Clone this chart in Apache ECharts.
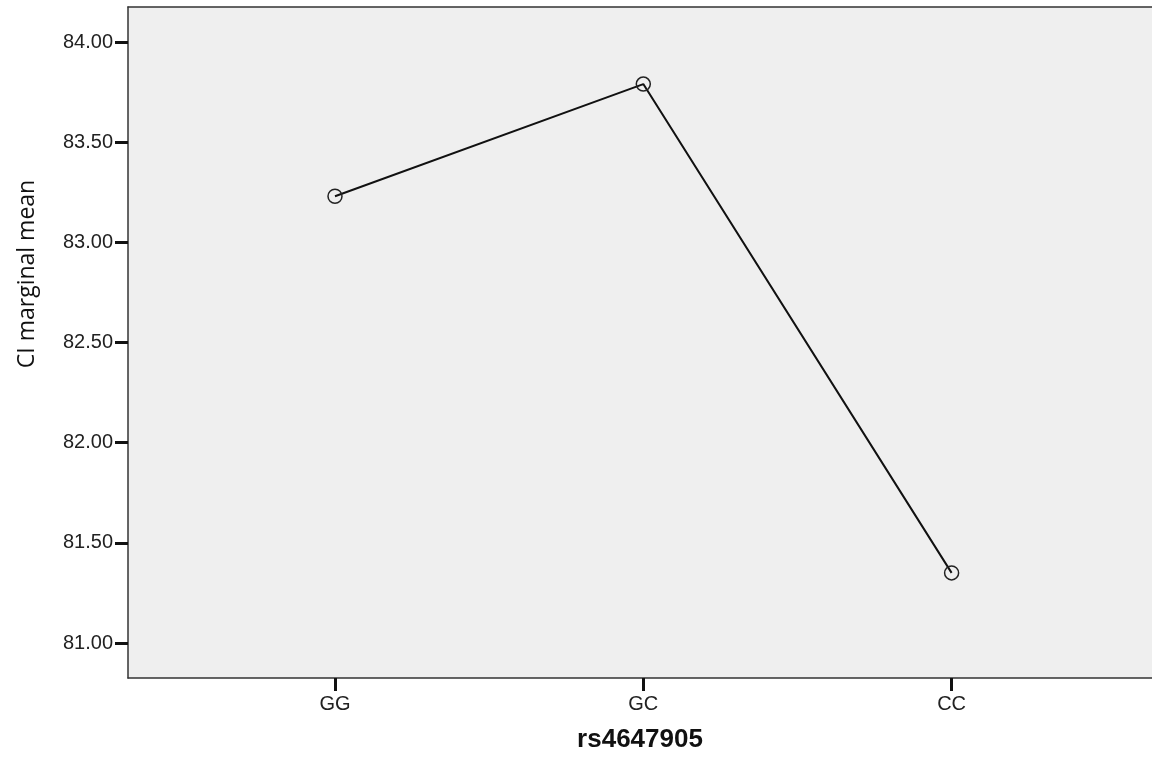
<!DOCTYPE html>
<html>
<head>
<meta charset="utf-8">
<style>
  html, body { margin: 0; padding: 0; background: #ffffff; }
  #chart { width: 1152px; height: 761px; }
</style>
<script src="https://cdn.jsdelivr.net/npm/echarts@6/dist/echarts.min.js"></script>
</head>
<body>
<div id="chart"></div>
<script>
// Genotype groups and estimated marginal means of CI
const genotypes = ['GG', 'GC', 'CC'];
const marginalMeans = [83.23, 83.79, 81.35];
const yTickValues = [81.0, 81.5, 82.0, 82.5, 83.0, 83.5, 84.0];

const xAxisTitle = 'rs4647905';
const yAxisTitle = 'CI marginal mean';

const chart = echarts.init(document.getElementById('chart'), null, { renderer: 'canvas' });

const points = genotypes.map((g, i) => [i, marginalMeans[i]]);
const xPositions = genotypes.map((g, i) => i);

const labelFont = { fontFamily: 'Liberation Sans, Arial, sans-serif', fontSize: 20, color: '#222222' };
const frameLine = { color: '#333333', width: 1.5 };
const xRange = { min: -0.6714, max: 2.65 };

chart.setOption({
  animation: false,
  backgroundColor: '#ffffff',
  grid: {
    left: 128, top: 7, right: 0, bottom: 83,
    show: true,
    backgroundColor: '#efefef',
    borderWidth: 0
  },
  xAxis: [{
    type: 'value',
    min: xRange.min,
    max: xRange.max,
    splitLine: { show: false },
    axisLine: { show: true, onZero: false, lineStyle: frameLine },
    axisTick: { show: true, length: 13, customValues: xPositions, lineStyle: { color: '#111111', width: 3 } },
    axisLabel: Object.assign({
      margin: 16,
      customValues: xPositions,
      formatter: v => genotypes[Math.round(v)] || ''
    }, labelFont),
    name: xAxisTitle,
    nameLocation: 'middle',
    nameGap: 49,
    nameTextStyle: { fontFamily: 'Liberation Sans, Arial, sans-serif', fontSize: 26, fontWeight: 'bold', color: '#111111' }
  }, {
    // top edge of the plot frame
    type: 'value',
    position: 'top',
    min: xRange.min,
    max: xRange.max,
    splitLine: { show: false },
    axisLine: { show: true, onZero: false, lineStyle: frameLine },
    axisTick: { show: false },
    axisLabel: { show: false }
  }],
  yAxis: {
    type: 'value',
    min: 80.8253,
    max: 84.1747,
    splitLine: { show: false },
    axisLine: { show: true, onZero: false, lineStyle: frameLine },
    axisTick: { show: true, length: 13, customValues: yTickValues, lineStyle: { color: '#111111', width: 3 } },
    axisLabel: Object.assign({
      margin: 15,
      customValues: yTickValues,
      formatter: v => v.toFixed(2)
    }, labelFont)
  },
  graphic: [{
    type: 'text',
    x: 27,
    y: 274,
    rotation: Math.PI / 2,
    style: {
      text: yAxisTitle,
      fontFamily: 'Open Sans, Noto Sans, sans-serif',
      fontSize: 23,
      fill: '#111111',
      align: 'center',
      verticalAlign: 'middle'
    }
  }],
  series: [{
    type: 'line',
    data: points,
    symbol: 'circle',
    symbolSize: 14,
    lineStyle: { color: '#111111', width: 2 },
    itemStyle: { color: 'rgba(0,0,0,0)', borderColor: '#222222', borderWidth: 1.5 },
    z: 3
  }]
});
</script>
</body>
</html>
